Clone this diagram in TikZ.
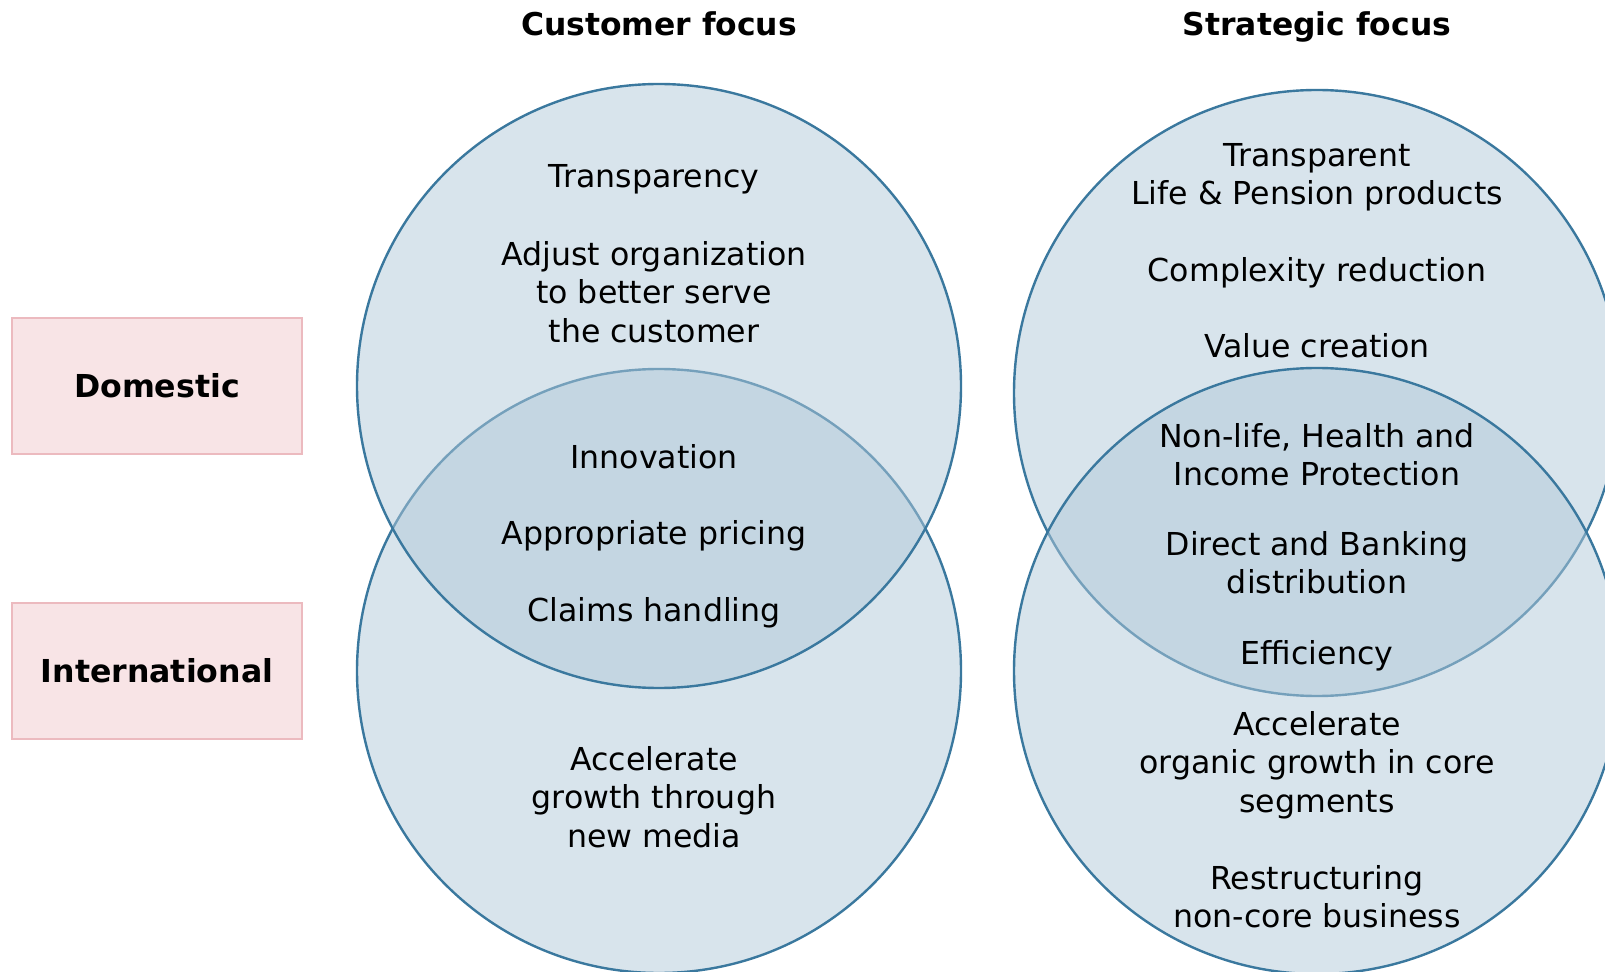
\documentclass[tikz,border=0pt]{standalone}
\usepackage{fontspec}
\setmainfont{DejaVu Sans}
\usepackage{xcolor}

\definecolor{vennfill}{RGB}{177,201,217}
\definecolor{vennline}{RGB}{58,120,158}
\definecolor{boxfill}{RGB}{248,228,230}
\definecolor{boxline}{RGB}{236,186,191}

\begin{document}
\begin{tikzpicture}[x=0.5pt, y=0.5pt,
    venn/.style={draw=vennline, line width=1.2pt, fill=vennfill, fill opacity=0.5},
    txt/.style={align=center, inner sep=0pt, font=\fontsize{15.8}{19.2}\selectfont},
    head/.style={inner sep=0pt, anchor=base, font=\fontsize{15.7}{19.2}\selectfont\bfseries},
    side/.style={draw=boxline, line width=1pt, fill=boxfill, minimum width=144.8pt,
      minimum height=68pt, font=\fontsize{15.8}{19.2}\selectfont\bfseries}]

    \useasboundingbox (0,0) rectangle (1605,-972);

    \begin{scope}
      \clip (0,0) rectangle (1605,-972);
      \draw [venn] (659,-671) circle (302);
      \draw [venn] (659,-386) circle (302);
      \draw [venn] (1317,-393) circle (303);
      \draw [venn] (1317,-671) circle (303);
    \end{scope}

    \node [head] (cust) at (659,-36) {Customer focus};
    \node [head] (strat) at (1317,-36) {Strategic focus};

    \node [side] (dom) at (157,-386) {Domestic};
    \node [side] (intl) at (157,-671) {International};

    \node [txt] (transp) at (654,-179) {Transparency};
    \node [txt] (adjust) at (654,-292) {Adjust organization\\to better serve\\the customer};
    \node [txt] (innov) at (654,-457) {Innovation};
    \node [txt] (pricing) at (654,-536) {Appropriate pricing};
    \node [txt] (claims) at (654,-613) {Claims handling};
    \node [txt] (media) at (654,-797) {Accelerate\\growth through\\new media};

    \node [txt] (lifepens) at (1317,-177) {Transparent\\Life \& Pension products};
    \node [txt] (complex) at (1317,-273) {Complexity reduction};
    \node [txt] (value) at (1317,-346) {Value creation};
    \node [txt] (nonlife) at (1317,-455) {Non-life, Health and\\Income Protection};
    \node [txt] (direct) at (1317,-563) {Direct and Banking\\distribution};
    \node [txt] (effic) at (1317,-656) {Efficiency};
    \node [txt] (organic) at (1317,-765) {Accelerate\\organic growth in core\\segments};
    \node [txt] (restruct) at (1317,-897) {Restructuring\\non-core business};

\end{tikzpicture}
\end{document}
